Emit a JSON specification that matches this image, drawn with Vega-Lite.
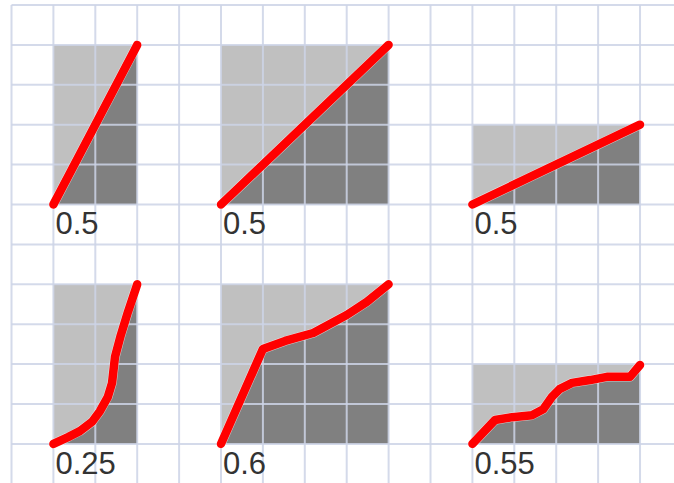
{
  "$schema": "https://vega.github.io/schema/vega-lite/v6.json",
  "width": 662.5,
  "height": 478,
  "autosize": {"type": "none"},
  "padding": {"left": 11.5, "top": 5, "right": 0, "bottom": 0},
  "background": "white",
  "config": {"view": {"stroke": null}},
  "datasets": {
    "panels": [
      {"panel": 1, "c0": 1, "c1": 3, "r0": 1, "r1": 5, "auc": "0.5"},
      {"panel": 2, "c0": 5, "c1": 9, "r0": 1, "r1": 5, "auc": "0.5"},
      {"panel": 3, "c0": 11, "c1": 15, "r0": 3, "r1": 5, "auc": "0.5"},
      {"panel": 4, "c0": 1, "c1": 3, "r0": 7, "r1": 11, "auc": "0.25"},
      {"panel": 5, "c0": 5, "c1": 9, "r0": 7, "r1": 11, "auc": "0.6"},
      {"panel": 6, "c0": 11, "c1": 15, "r0": 9, "r1": 11, "auc": "0.55"}
    ],
    "curves": [
      {"panel": 1, "i": 0, "x": 1, "y": 5, "base": 5},
      {"panel": 1, "i": 1, "x": 3, "y": 1, "base": 5},
      {"panel": 2, "i": 0, "x": 5, "y": 5, "base": 5},
      {"panel": 2, "i": 1, "x": 9, "y": 1, "base": 5},
      {"panel": 3, "i": 0, "x": 11, "y": 5, "base": 5},
      {"panel": 3, "i": 1, "x": 15, "y": 3, "base": 5},
      {"panel": 4, "i": 0, "x": 1.0, "y": 11.0, "base": 11},
      {"panel": 4, "i": 1, "x": 1.35, "y": 10.83, "base": 11},
      {"panel": 4, "i": 2, "x": 1.63, "y": 10.68, "base": 11},
      {"panel": 4, "i": 3, "x": 1.92, "y": 10.45, "base": 11},
      {"panel": 4, "i": 4, "x": 2.11, "y": 10.18, "base": 11},
      {"panel": 4, "i": 5, "x": 2.3, "y": 9.82, "base": 11},
      {"panel": 4, "i": 6, "x": 2.4, "y": 9.47, "base": 11},
      {"panel": 4, "i": 7, "x": 2.47, "y": 8.82, "base": 11},
      {"panel": 4, "i": 8, "x": 2.61, "y": 8.27, "base": 11},
      {"panel": 4, "i": 9, "x": 2.78, "y": 7.69, "base": 11},
      {"panel": 4, "i": 10, "x": 3.0, "y": 7.0, "base": 11},
      {"panel": 5, "i": 0, "x": 5.0, "y": 11.0, "base": 11},
      {"panel": 5, "i": 1, "x": 6.0, "y": 8.62, "base": 11},
      {"panel": 5, "i": 2, "x": 6.53, "y": 8.42, "base": 11},
      {"panel": 5, "i": 3, "x": 7.2, "y": 8.22, "base": 11},
      {"panel": 5, "i": 4, "x": 7.7, "y": 7.94, "base": 11},
      {"panel": 5, "i": 5, "x": 8.0, "y": 7.77, "base": 11},
      {"panel": 5, "i": 6, "x": 8.48, "y": 7.44, "base": 11},
      {"panel": 5, "i": 7, "x": 9.0, "y": 7.0, "base": 11},
      {"panel": 6, "i": 0, "x": 11.0, "y": 11.0, "base": 11},
      {"panel": 6, "i": 1, "x": 11.54, "y": 10.4, "base": 11},
      {"panel": 6, "i": 2, "x": 11.95, "y": 10.33, "base": 11},
      {"panel": 6, "i": 3, "x": 12.42, "y": 10.28, "base": 11},
      {"panel": 6, "i": 4, "x": 12.69, "y": 10.13, "base": 11},
      {"panel": 6, "i": 5, "x": 12.9, "y": 9.82, "base": 11},
      {"panel": 6, "i": 6, "x": 13.09, "y": 9.62, "base": 11},
      {"panel": 6, "i": 7, "x": 13.38, "y": 9.47, "base": 11},
      {"panel": 6, "i": 8, "x": 13.81, "y": 9.4, "base": 11},
      {"panel": 6, "i": 9, "x": 14.21, "y": 9.32, "base": 11},
      {"panel": 6, "i": 10, "x": 14.76, "y": 9.32, "base": 11},
      {"panel": 6, "i": 11, "x": 15.0, "y": 9.02, "base": 11}
    ],
    "cols": [
      {"col": 0}, {"col": 1}, {"col": 2}, {"col": 3}, {"col": 4}, {"col": 5},
      {"col": 6}, {"col": 7}, {"col": 8}, {"col": 9}, {"col": 10}, {"col": 11},
      {"col": 12}, {"col": 13}, {"col": 14}, {"col": 15}
    ],
    "rows": [
      {"row": 0}, {"row": 1}, {"row": 2}, {"row": 3}, {"row": 4}, {"row": 5},
      {"row": 6}, {"row": 7}, {"row": 8}, {"row": 9}, {"row": 10}, {"row": 11}
    ]
  },
  "layer": [
    {
      "data": {"name": "panels"},
      "mark": {"type": "rect", "color": "#c0c0c0"},
      "encoding": {
        "x": {"field": "c0", "type": "quantitative", "scale": {"domain": [0, 15.811], "nice": false, "zero": false}, "axis": null},
        "x2": {"field": "c1"},
        "y": {"field": "r0", "type": "quantitative", "scale": {"domain": [0, 11.98], "nice": false, "zero": false, "reverse": true}, "axis": null},
        "y2": {"field": "r1"}
      }
    },
    {
      "data": {"name": "curves"},
      "mark": {"type": "area", "color": "#808080", "interpolate": "linear", "orient": "vertical"},
      "encoding": {
        "x": {"field": "x", "type": "quantitative"},
        "y": {"field": "y", "type": "quantitative"},
        "y2": {"field": "base"},
        "detail": {"field": "panel", "type": "nominal"}
      }
    },
    {
      "data": {"name": "cols"},
      "mark": {"type": "rule", "color": "#ccd3e6", "strokeWidth": 2, "opacity": 0.85},
      "encoding": {"x": {"field": "col", "type": "quantitative"}}
    },
    {
      "data": {"name": "rows"},
      "mark": {"type": "rule", "color": "#ccd3e6", "strokeWidth": 2, "opacity": 0.85},
      "encoding": {"y": {"field": "row", "type": "quantitative"}}
    },
    {
      "data": {"name": "curves"},
      "mark": {"type": "line", "color": "white", "strokeWidth": 9.5, "strokeCap": "round", "strokeJoin": "round", "opacity": 0.6},
      "encoding": {
        "x": {"field": "x", "type": "quantitative"},
        "y": {"field": "y", "type": "quantitative"},
        "detail": {"field": "panel", "type": "nominal"},
        "order": {"field": "i", "type": "quantitative"}
      }
    },
    {
      "data": {"name": "curves"},
      "mark": {"type": "line", "color": "#ff0000", "strokeWidth": 8.5, "strokeCap": "round", "strokeJoin": "round"},
      "encoding": {
        "x": {"field": "x", "type": "quantitative"},
        "y": {"field": "y", "type": "quantitative"},
        "detail": {"field": "panel", "type": "nominal"},
        "order": {"field": "i", "type": "quantitative"}
      }
    },
    {
      "data": {"name": "panels"},
      "mark": {"type": "text", "align": "left", "baseline": "alphabetic", "dx": 2, "dy": 30, "font": "Liberation Sans", "fontSize": 31, "color": "#333333"},
      "encoding": {
        "x": {"field": "c0", "type": "quantitative"},
        "y": {"field": "r1", "type": "quantitative"},
        "text": {"field": "auc", "type": "nominal"}
      }
    }
  ]
}
